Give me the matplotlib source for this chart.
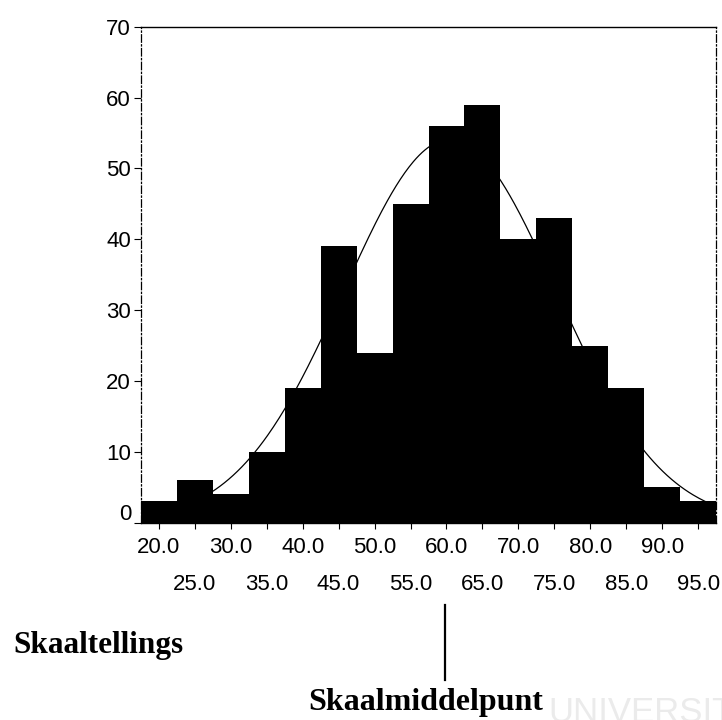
import numpy as np
import matplotlib.pyplot as plt
from matplotlib.lines import Line2D
from matplotlib.transforms import ScaledTranslation

# histogram data: bin midpoints and counts
midpoints = [20, 25, 30, 35, 40, 45, 50, 55, 60, 65, 70, 75, 80, 85, 90, 95]
counts = [3, 6, 4, 10, 19, 39, 24, 45, 56, 59, 40, 43, 25, 19, 5, 3]
bin_width = 5.0

# fitted normal curve parameters
fit_mean = 60.5
fit_sd = 14.75

major_ticks = [20, 30, 40, 50, 60, 70, 80, 90]
minor_ticks = [25, 35, 45, 55, 65, 75, 85, 95]
y_ticks = [0, 10, 20, 30, 40, 50, 60, 70]

fig = plt.figure(figsize=(7.22, 7.2), dpi=100)
ax = fig.add_axes([0.195, 0.274, 0.797, 0.689])

ax.bar(midpoints, counts, width=bin_width, color='black', linewidth=0,
       antialiased=False, zorder=2)

xs = np.linspace(17.5, 97.5, 400)
n_total = sum(counts)
curve = n_total * bin_width / (fit_sd * np.sqrt(2 * np.pi)) * np.exp(-0.5 * ((xs - fit_mean) / fit_sd) ** 2)
ax.plot(xs, curve, color='black', linewidth=0.9, zorder=3)

ax.set_xlim(17.5, 97.5)
ax.set_ylim(0, 70)

ax.set_yticks(y_ticks)
ax.set_yticklabels([str(v) for v in y_ticks])
ax.set_xticks(major_ticks)
ax.set_xticklabels(['%.1f' % v for v in major_ticks])
ax.set_xticks(minor_ticks, minor=True)
ax.set_xticklabels(['%.1f' % v for v in minor_ticks], minor=True)

ax.tick_params(axis='y', direction='out', length=5, width=0.8, pad=2,
               labelsize=16)
ax.tick_params(axis='x', which='major', direction='out', length=4, width=0.8,
               pad=6.5, labelsize=16)
ax.tick_params(axis='x', which='minor', direction='out', length=4, width=0.8,
               pad=33, labelsize=16)
for lab in ax.get_xticklabels(which='both') + ax.get_yticklabels():
    lab.set_family('Liberation Sans')

# the zero label sits a little above its tick
zero_lab = ax.get_yticklabels()[0]
zero_lab.set_transform(zero_lab.get_transform() + ScaledTranslation(0, 8 / 72, fig.dpi_scale_trans))

ax.spines['left'].set_linestyle((0, (6, 2, 1, 2)))
ax.spines['right'].set_linestyle((0, (6, 2, 1, 2)))
ax.spines['left'].set_linewidth(0.9)
ax.spines['right'].set_linewidth(0.9)
ax.spines['top'].set_linewidth(1.0)
ax.spines['bottom'].set_linewidth(1.0)

# annotations below the chart
fig.text(0.018, 0.093, 'Skaaltellings', family='Liberation Serif',
         fontweight='bold', fontsize=22.5, ha='left', va='baseline')
fig.text(0.590, 0.014, 'Skaalmiddelpunt', family='Liberation Serif',
         fontweight='bold', fontsize=23, ha='center', va='baseline')
fig.add_artist(Line2D([0.616, 0.616], [0.056, 0.160], color='black',
                      linewidth=1.6))

# faint watermark
fig.text(0.76, -0.012, 'UNIVERSITY', family='Liberation Sans', fontsize=25,
         color='#ebebeb', ha='left', va='bottom', zorder=0)

fig.savefig('out.png', dpi=100)
